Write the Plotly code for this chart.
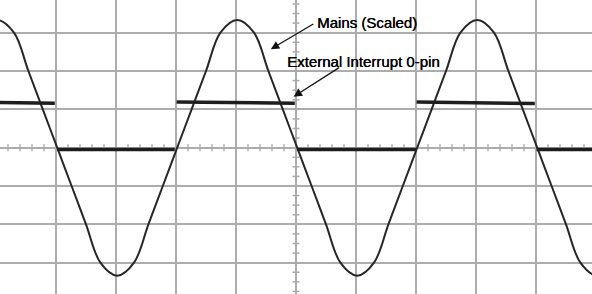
import numpy as np
import plotly.graph_objects as go

# Time axis in ms (5 ms per division), voltage axis in screen divisions
mains_t = [-26.3, -24.9, -23.5, -22.3, -21.1, -19.9, -18.7, -17.5, -16.3,
           -14.9, -13.5, -12.3, -11.1, -9.9, -8.7, -7.5, -6.3,
           -4.9, -3.5, -2.3, -1.1, 0.1, 1.3, 2.5, 3.7,
           5.1, 6.5, 7.7, 8.9, 10.1, 11.3, 12.5, 13.7,
           15.1, 16.5, 17.7, 18.9, 20.1, 21.3, 22.5, 23.7, 25.1, 26.5]
mains_v = [3.0, 3.33, 3.0, 2.0, 1.0, 0.0, -1.0, -2.0, -3.0,
           -3.34, -3.0, -2.0, -1.0, 0.0, 1.0, 2.0, 3.0,
           3.33, 3.0, 2.0, 1.0, 0.0, -1.0, -2.0, -3.0,
           -3.34, -3.0, -2.0, -1.0, 0.0, 1.0, 2.0, 3.0,
           3.33, 3.0, 2.0, 1.0, 0.0, -1.0, -2.0, -3.0, -3.34, -3.0]

int0_t = [-25.0, -20.1, None, -19.9, -10.1, None, -9.95, -0.1, None,
          0.1, 10.0, None, 10.05, 19.9, None, 20.05, 25.0]
int0_v = [1.18, 1.16, None, -0.05, -0.05, None, 1.19, 1.16, None,
          -0.05, -0.05, None, 1.19, 1.15, None, -0.05, -0.05]

label_mains = "Mains (Scaled)"
label_int0 = "External Interrupt 0-pin"

# graticule subdivision marks on the centre cross (1 ms and 0.25 div)
grat_t = np.arange(-24, 25, 1.0)
grat_v = np.arange(-3.75, 3.8, 0.25)

GRID = "#acacac"
x_range = [-24.667, 24.667]
y_range = [-3.818, 3.853]

fig = go.Figure()
fig.add_trace(go.Scatter(x=grat_t, y=np.zeros_like(grat_t), mode="markers",
                         marker=dict(symbol="line-ns", size=5, line=dict(color=GRID, width=1.5)),
                         showlegend=False, hoverinfo="skip"))
fig.add_trace(go.Scatter(x=np.zeros_like(grat_v), y=grat_v, mode="markers",
                         marker=dict(symbol="line-ew", size=5, line=dict(color=GRID, width=1.5)),
                         showlegend=False, hoverinfo="skip"))
fig.add_trace(go.Scatter(x=mains_t, y=mains_v, mode="lines",
                         line=dict(color="#262626", width=2, shape="spline", smoothing=1.0),
                         showlegend=False, hoverinfo="skip"))
fig.add_trace(go.Scatter(x=int0_t, y=int0_v, mode="lines", line=dict(color="#1e1e1e", width=3.5),
                         connectgaps=False, showlegend=False, hoverinfo="skip"))

common = dict(showticklabels=False, ticks="", showgrid=True, gridcolor=GRID, gridwidth=2,
              zeroline=True, zerolinecolor=GRID, zerolinewidth=2, showline=False, fixedrange=True)
fig.update_layout(
    width=592, height=294, margin=dict(l=0, r=0, t=0, b=0),
    paper_bgcolor="white", plot_bgcolor="white",
    xaxis=dict(range=x_range, dtick=5, tick0=0, **common),
    yaxis=dict(range=y_range, dtick=1, tick0=0, **common),
    font=dict(family="Liberation Sans, Arial, sans-serif", size=15, color="#000000"),
)

lab_font = dict(size=15, color="#000000", shadow="0.4px 0 0 #000000")
# labels
fig.add_annotation(x=1.55, y=3.27, xref="x", yref="y", text=label_mains, showarrow=False,
                   xanchor="left", yanchor="middle", font=lab_font)
fig.add_annotation(x=-0.9, y=2.25, xref="x", yref="y", text=label_int0, showarrow=False,
                   xanchor="left", yanchor="middle", font=lab_font)
# arrows (head on the point, tail offset in pixels)
fig.add_annotation(x=-2.1, y=2.57, xref="x", yref="y", text="", showarrow=True,
                   ax=44, ay=-26, arrowhead=2, arrowsize=1.3, arrowwidth=1.3, arrowcolor="#111111", standoff=0)
fig.add_annotation(x=-0.2, y=1.33, xref="x", yref="y", text="", showarrow=True,
                   ax=47, ay=-30, arrowhead=2, arrowsize=1.3, arrowwidth=1.3, arrowcolor="#111111", standoff=0)

fig.write_html("out.html", config={"displayModeBar": False, "staticPlot": True})
